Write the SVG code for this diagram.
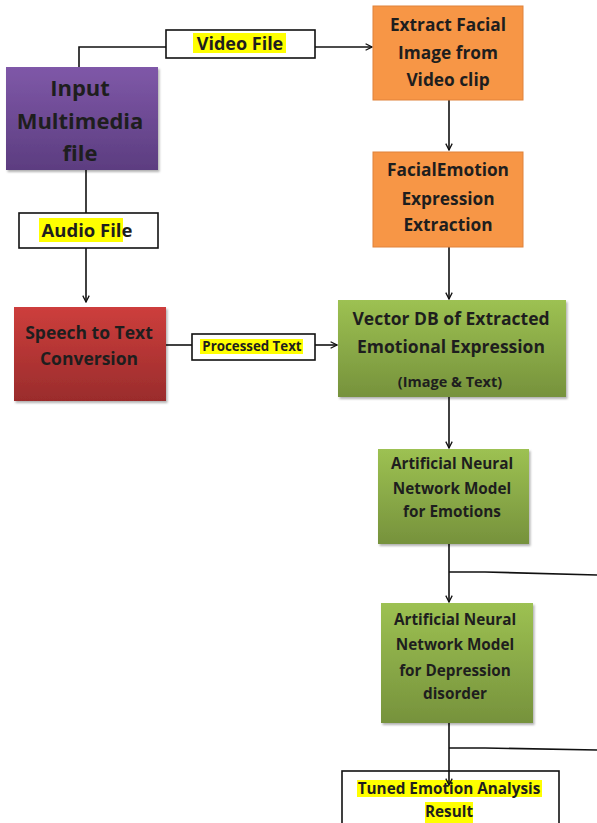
<svg xmlns="http://www.w3.org/2000/svg" width="597" height="823" viewBox="0 0 597 823">
<style>
.t{font-family:"Open Sans","Liberation Sans",sans-serif;font-weight:bold;fill:#1e1e1e;text-anchor:middle}
.ln{fill:none;stroke:#111;stroke-width:1.6}
.lb{fill:#fff;stroke:#111;stroke-width:1.6}
.hl{fill:#ffff00}
.or{fill:#f79646;stroke:#e0823a;stroke-width:1}
</style>
<defs>
<linearGradient id="gp" x1="0" y1="0" x2="0" y2="1"><stop offset="0" stop-color="#7f58a8"/><stop offset="1" stop-color="#5c3d80"/></linearGradient>
<linearGradient id="gr" x1="0" y1="0" x2="0" y2="1"><stop offset="0" stop-color="#cd3e3c"/><stop offset="1" stop-color="#9a2c2c"/></linearGradient>
<linearGradient id="gg" x1="0" y1="0" x2="0" y2="1"><stop offset="0" stop-color="#9dc152"/><stop offset="1" stop-color="#76923c"/></linearGradient>
<filter id="sh" x="-10%" y="-10%" width="125%" height="125%"><feDropShadow dx="1.5" dy="2" stdDeviation="1.2" flood-color="#000" flood-opacity="0.3"/></filter>
<marker id="ar" viewBox="0 0 10 10" refX="9" refY="5" markerWidth="8" markerHeight="8" orient="auto" markerUnits="userSpaceOnUse"><path d="M1,1 L9,5 L1,9" fill="none" stroke="#111" stroke-width="1.6"/></marker>
</defs>

<g id="connectors">
<path class="ln" d="M79,67 V47 H166"/>
<path class="ln" d="M315,47 H372" marker-end="url(#ar)"/>
<path class="ln" d="M449,100 V150" marker-end="url(#ar)"/>
<path class="ln" d="M449,247 V299" marker-end="url(#ar)"/>
<path class="ln" d="M86,170 V213"/>
<path class="ln" d="M86,248 V302" marker-end="url(#ar)"/>
<path class="ln" d="M166,345 H192"/>
<path class="ln" d="M315,345 H337" marker-end="url(#ar)"/>
<path class="ln" d="M449,397 V448" marker-end="url(#ar)"/>
<path class="ln" d="M449,544 V602" marker-end="url(#ar)"/>
<path class="ln" d="M449,572 H485 L597,575"/>
<path class="ln" d="M449,723 V785"/>
<path class="ln" d="M449,748 H485 L597,750"/>
</g>

<g id="input">
<rect x="6" y="67" width="152" height="103" fill="url(#gp)" filter="url(#sh)"/>
<text class="t" x="80" y="96" font-size="22">Input</text>
<text class="t" x="80" y="129" font-size="22">Multimedia</text>
<text class="t" x="80" y="161" font-size="22">file</text>
</g>

<g id="videofile">
<rect class="lb" x="166" y="30" width="149" height="28"/>
<rect class="hl" x="193" y="33" width="93" height="20"/>
<text class="t" x="240" y="50" font-size="18">Video File</text>
</g>

<g id="extract">
<rect class="or" x="373" y="6" width="150" height="94"/>
<text class="t" x="448" y="31" font-size="17.3">Extract Facial</text>
<text class="t" x="448" y="59" font-size="17.3">Image from</text>
<text class="t" x="448" y="86" font-size="17.3">Video clip</text>
</g>

<g id="facialemotion">
<rect class="or" x="373" y="152" width="150" height="95"/>
<text class="t" x="448" y="176" font-size="17.3">FacialEmotion</text>
<text class="t" x="448" y="205" font-size="17.3">Expression</text>
<text class="t" x="448" y="231" font-size="17.3">Extraction</text>
</g>

<g id="audiofile">
<rect class="lb" x="19" y="213" width="139" height="35"/>
<rect class="hl" x="39" y="218" width="84" height="24"/>
<text class="t" x="87" y="237" font-size="18.5">Audio File</text>
</g>

<g id="speech">
<rect x="14" y="307" width="152" height="94" fill="url(#gr)" filter="url(#sh)"/>
<text class="t" x="89" y="339" font-size="17.5">Speech to Text</text>
<text class="t" x="89" y="365" font-size="17.5">Conversion</text>
</g>

<g id="processedtext">
<rect class="lb" x="192" y="334" width="123" height="26"/>
<rect class="hl" x="200" y="339" width="103" height="15"/>
<text class="t" x="252" y="351" font-size="13.3">Processed Text</text>
</g>

<g id="vectordb">
<rect x="338" y="300" width="228" height="97" fill="url(#gg)" filter="url(#sh)"/>
<text class="t" x="451" y="325" font-size="17.5">Vector DB of Extracted</text>
<text class="t" x="451" y="353" font-size="17.5">Emotional Expression</text>
<text class="t" x="450" y="387" font-size="14.5">(Image  &amp; Text)</text>
</g>

<g id="annemotions">
<rect x="378" y="449" width="151" height="95" fill="url(#gg)" filter="url(#sh)"/>
<text class="t" x="452" y="469" font-size="15.3">Artificial Neural</text>
<text class="t" x="452" y="494" font-size="15.3">Network Model</text>
<text class="t" x="452" y="517" font-size="15.3">for Emotions</text>
</g>

<g id="anndepression">
<rect x="381" y="603" width="152" height="120" fill="url(#gg)" filter="url(#sh)"/>
<text class="t" x="455" y="625" font-size="15.3">Artificial Neural</text>
<text class="t" x="455" y="650" font-size="15.3">Network Model</text>
<text class="t" x="455" y="676" font-size="15.3">for Depression</text>
<text class="t" x="455" y="699" font-size="15.3">disorder</text>
</g>

<g id="result">
<rect x="342" y="771" width="217" height="60" fill="#fff" stroke="#111" stroke-width="1.6"/>
<rect class="hl" x="357" y="780" width="185" height="17"/>
<rect class="hl" x="425" y="802" width="48" height="21"/>
<text class="t" x="449" y="794" font-size="15.3">Tuned Emotion Analysis</text>
<text class="t" x="449" y="817" font-size="15.3">Result</text>
<path d="M449,771 V785" stroke="#111" stroke-width="1.6" fill="none" marker-end="url(#ar)"/>
</g>
</svg>
